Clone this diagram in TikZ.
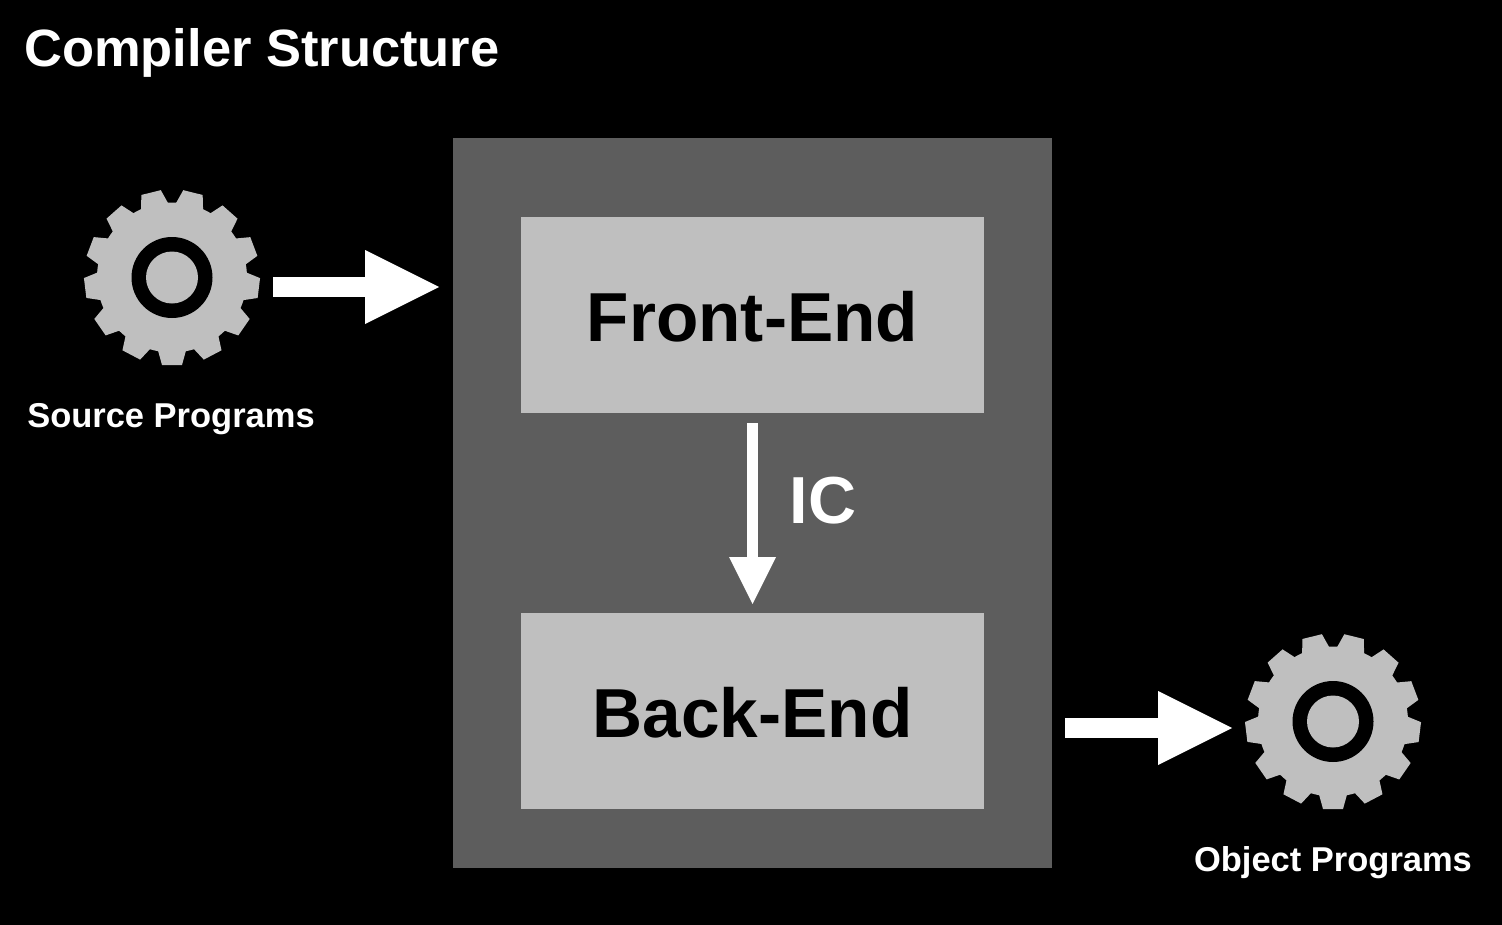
\documentclass[tikz,border=0pt]{standalone}
\usepackage{fontspec}
\setmainfont{Liberation Sans}
\usetikzlibrary{calc,arrows.meta,positioning}
\definecolor{panel}{RGB}{93,93,93}
\definecolor{block}{RGB}{191,191,191}
\tikzset{
  stagebox/.style={fill=block,minimum width=463*\u,minimum height=196*\u,inner sep=0pt,text=black,text height=56pt,text depth=0pt,font=\fontsize{74}{74}\selectfont\bfseries},
  bigarrow/.style={-{Triangle[length=74*\u,width=74*\u,line width=0pt]},line width=20*\u,white},
  downarrow/.style={-{Triangle[length=47*\u,width=47*\u,line width=0pt]},line width=11*\u,white},
  caption/.style={white,font=\fontsize{36.8}{36.8}\selectfont\bfseries,inner sep=0pt},
}
\newcommand{\gear}[1]{% centre name
  \fill[block] (#1) circle (75*\u);
  \foreach \a in {0,27.69,...,340}
    \fill[block,rotate around={\a:(#1)}] ($(#1)+(-14*\u,-73*\u)$) -- ($(#1)+(-10*\u,-87.5*\u)$) -- ($(#1)+(10*\u,-87.5*\u)$) -- ($(#1)+(14*\u,-73*\u)$) -- cycle;
  \fill[black] (#1) circle (40.5*\u);
  \fill[block] (#1) circle (26*\u);
}
\begin{document}
\begin{tikzpicture}[x=0.0375cm,y=-0.0375cm]
  \def\u{0.0375cm}
  \useasboundingbox (0,0) rectangle (1502,924);
  \fill[black] (-5,-5) rectangle (1507,929);
  \node[white,anchor=west,inner sep=0pt,font=\fontsize{56}{56}\selectfont\bfseries] (title) at (24,53) {Compiler Structure};
  \fill[panel] (453,138) rectangle (1052,868);
  \node[stagebox] (front) at (752.5,315) {Front-End};
  \node[stagebox] (back) at (752.5,711) {Back-End};
  % gears on both sides
  \coordinate (srcgear) at (172,277.5);
  \coordinate (objgear) at (1333,721.5);
  \gear{srcgear}
  \gear{objgear}
  \node[caption] (srclabel) at (171,419.5) {Source Programs};
  \node[caption] (objlabel) at (1333,863) {Object Programs};
  \coordinate (srcend) at (273,287);
  \coordinate (inend) at (439,287);
  \coordinate (outstart) at (1065,728);
  \coordinate (outend) at (1232,728);
  \draw[bigarrow] (srcend) -- (inend);
  \draw[bigarrow] (outstart) -- (outend);
  \draw[downarrow] (front.south |- 0,423) -- (back.north |- 0,604);
  \node[white,font=\fontsize{71}{71}\selectfont\bfseries,inner sep=0pt] (ic) at (823,500.5) {IC};
\end{tikzpicture}
\end{document}
